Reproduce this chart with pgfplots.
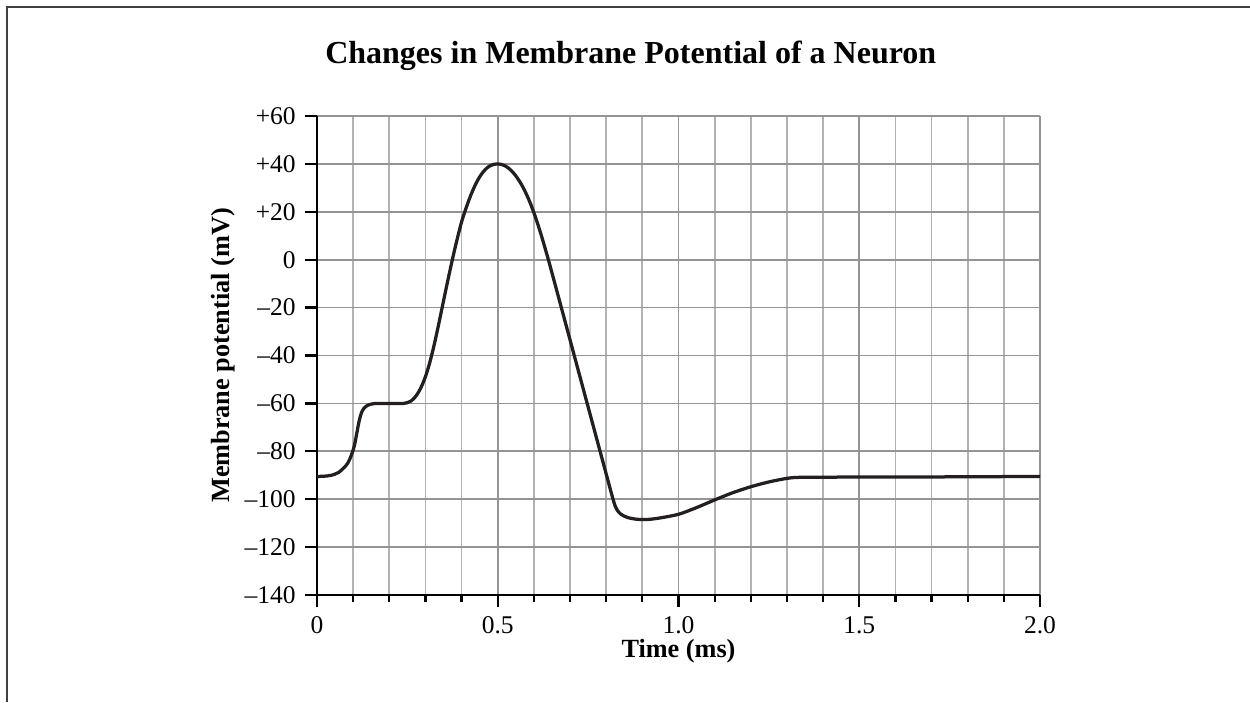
\documentclass[border=0pt]{standalone}
\usepackage{fontspec}
\setmainfont{Liberation Serif}
\usepackage{pgfplots}
\pgfplotsset{compat=1.18}

\definecolor{inkblack}{RGB}{35,31,32}

\begin{document}
\begin{tikzpicture}
% page: 1250x702 px at 0.4pt per px
\useasboundingbox (0,0) rectangle (500pt,280.8pt);
\draw[black!75, line width=0.7pt] (2.9pt,0) -- (2.9pt,277.9pt) -- (500pt,277.9pt);

\node[anchor=base, font=\fontsize{12.8}{15}\selectfont\bfseries]
  at (252.3pt,255.2pt) {Changes in Membrane Potential of a Neuron};

\begin{axis}[
  at={(126.8pt,42.8pt)}, anchor=south west,
  scale only axis,
  width=289.2pt, height=191.6pt,
  xmin=0, xmax=2, ymin=-140, ymax=60,
  enlargelimits=false,
  axis x line=bottom, axis y line=left,
  axis line style={-, black, line width=0.95pt},
  xtick={0,0.5,1,1.5,2},
  xticklabels={0,0.5,1.0,1.5,2.0},
  minor x tick num=4,
  ytick={-140,-120,-100,-80,-60,-40,-20,0,20,40,60},
  yticklabels={--140,--120,--100,--80,--60,--40,--20,0,+20,+40,+60},
  tick align=outside,
  major tick length=5pt,
  minor tick length=2.8pt,
  every tick/.style={black, line width=0.9pt},
  grid=both,
  major grid style={black!42, line width=0.7pt},
  minor grid style={black!30, line width=0.7pt},
  tick label style={font=\fontsize{10.2}{12}\selectfont},
  xlabel={Time (ms)},
  ylabel={Membrane potential (mV)},
  label style={font=\fontsize{10.5}{12}\selectfont\bfseries},
  xlabel style={at={(axis description cs:0.5,-0.1315)}, anchor=base},
  ylabel style={at={(axis description cs:-0.1217,0.5)}, anchor=base},
]
\addplot[inkblack, line width=1.3pt, smooth, tension=0.5] coordinates {
  (0.00,-90.5) (0.02,-90.4) (0.04,-90.0) (0.06,-88.8) (0.08,-86.0)
  (0.09,-83.5) (0.10,-79.5) (0.105,-76.5) (0.11,-72.5) (0.115,-68.5)
  (0.12,-65.3) (0.125,-63.2) (0.13,-62.0) (0.14,-60.8) (0.15,-60.3)
  (0.16,-60.05) (0.18,-60) (0.23,-60) (0.24,-60.0) (0.25,-59.7)
  (0.26,-59.0) (0.27,-57.6) (0.28,-55.5) (0.29,-52.6) (0.30,-48.8)
  (0.31,-44.0) (0.32,-38.2) (0.33,-31.6) (0.34,-24.5) (0.35,-17.2)
  (0.36,-10.0) (0.37,-3.0) (0.38,3.7) (0.39,10.0) (0.40,15.8)
  (0.41,20.5) (0.42,24.8) (0.43,28.6) (0.44,31.9) (0.45,34.6)
  (0.46,36.7) (0.47,38.3) (0.48,39.3) (0.49,39.85) (0.50,40.0)
  (0.51,39.8) (0.52,39.2) (0.53,38.2) (0.54,36.8) (0.55,35.0)
  (0.56,32.8) (0.57,30.2) (0.58,27.1) (0.59,23.6) (0.60,19.6)
  (0.61,15.2) (0.62,10.4) (0.63,5.3) (0.64,0.0) (0.65,-5.5)
  (0.66,-11.1) (0.67,-16.7) (0.68,-22.3) (0.70,-33.5) (0.72,-44.7)
  (0.74,-55.9) (0.76,-67.1) (0.78,-78.3) (0.80,-89.5) (0.81,-95.1)
  (0.82,-100.6) (0.825,-102.9) (0.83,-104.5) (0.84,-106.2) (0.85,-107.1)
  (0.86,-107.7) (0.88,-108.3) (0.90,-108.5) (0.92,-108.4) (0.95,-107.8)
  (1.00,-106.3) (1.05,-103.5) (1.10,-100.3) (1.15,-97.3) (1.20,-94.8)
  (1.25,-92.8) (1.30,-91.3) (1.33,-90.9) (1.40,-90.8) (1.70,-90.7)
  (2.00,-90.5)
};
\end{axis}
\end{tikzpicture}
\end{document}
